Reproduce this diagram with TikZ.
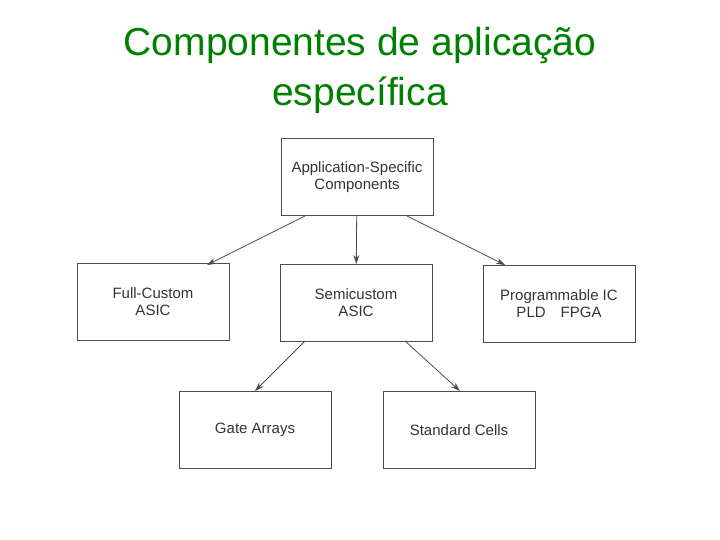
\documentclass[tikz,border=0pt]{standalone}
\usepackage{fontspec}
\setmainfont{Liberation Sans}
\usetikzlibrary{arrows.meta}
\begin{document}
\begin{tikzpicture}[x=1pt,y=-1pt,
  box/.style={draw=black!70,line width=1pt,minimum width=152pt,minimum height=77pt,align=center,font=\fontsize{15}{17}\selectfont,text=black!80,inner sep=0pt},
  conn/.style={draw=black!70,line width=0.8pt,-{Stealth[length=9pt,width=6pt]}}]
\useasboundingbox (0,0) rectangle (720,540);
\node[text={rgb,255:red,0;green,128;blue,0},font=\fontsize{39}{50}\selectfont,align=center] (title) at (360,70) {Componentes de aplicação\\específica};
\node[box] (top) at (357,177) {Application-Specific\\Components};
\node[box] (fc) at (153,302) {Full-Custom\\ASIC};
\node[box] (sc) at (356,303) {Semicustom\\ASIC};
\node[box] (pic) at (559,304) {Programmable IC\\PLD\quad FPGA};
\node[box] (ga) at (255,430) {Gate Arrays};
\node[box] (std) at (459,430) {Standard Cells};
\coordinate (t1) at (305,216); \coordinate (t3) at (407,216);
\coordinate (s1) at (305,341); \coordinate (s2) at (405,341);
\draw[conn] (t1) -- (207,265);
\draw[conn] (top) -- (sc);
\draw[conn] (t3) -- (505,265);
\draw[conn] (s1) -- (255,391);
\draw[conn] (s2) -- (460,391);
\end{tikzpicture}
\end{document}
